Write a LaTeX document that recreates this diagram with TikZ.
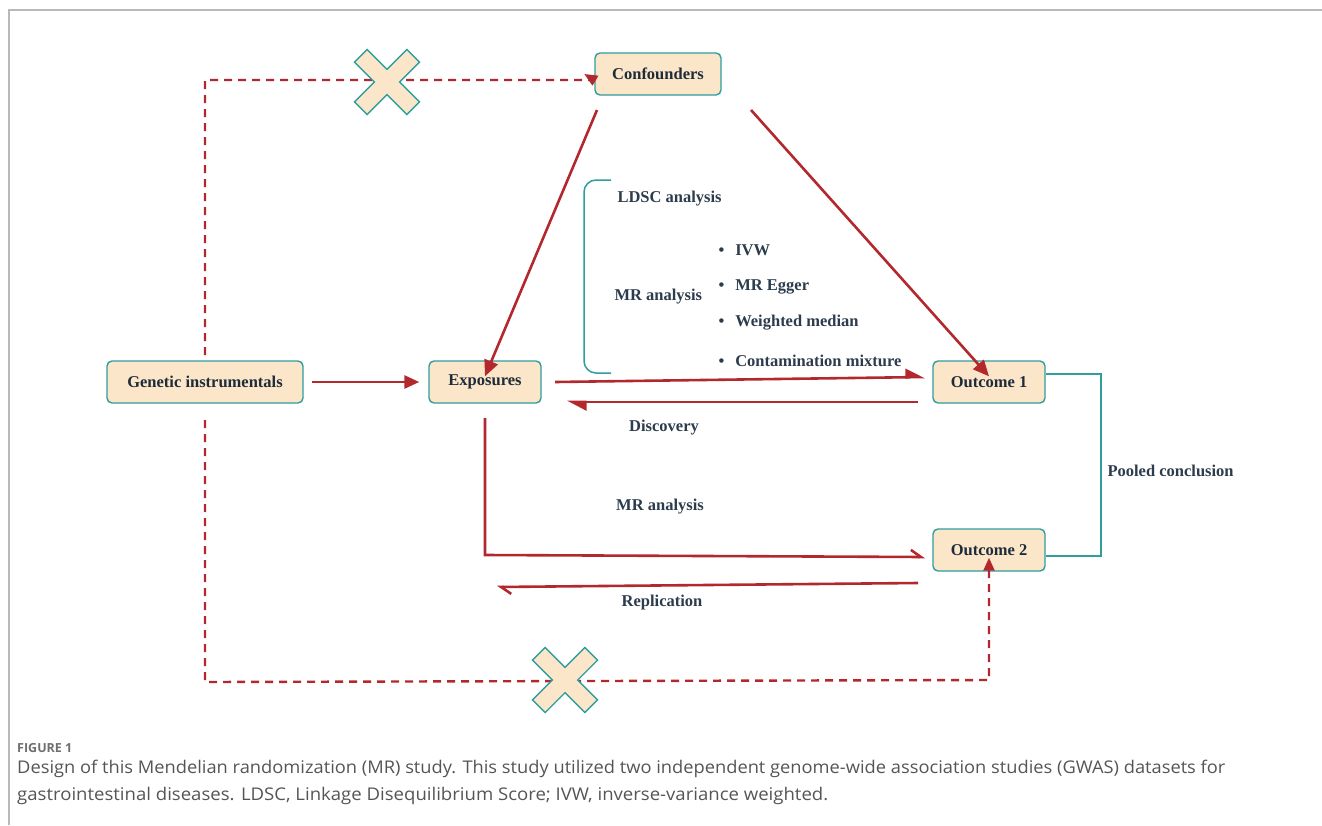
\documentclass[tikz,border=0pt]{standalone}
\usepackage{fontspec}
\setmainfont{Liberation Serif}
\newfontfamily\capfont{Open Sans}
\usetikzlibrary{arrows.meta}
\definecolor{mred}{HTML}{B3282D}
\definecolor{mteal}{HTML}{2E9E9E}
\definecolor{mfill}{HTML}{FBE6C9}
\definecolor{mtext}{HTML}{1E2C3A}
\definecolor{mlab}{HTML}{2C3C4C}
\definecolor{mcap}{HTML}{555555}
\tikzset{
  box/.style={draw=mteal, line width=1.4pt, fill=mfill, rounded corners=5pt,
    minimum height=42pt, inner xsep=8pt, text=mtext, font=\fontsize{16.5}{19}\selectfont\bfseries},
  redline/.style={draw=mred, line width=2.6pt},
  dashline/.style={draw=mred, line width=2.4pt, dash pattern=on 8pt off 6pt},
  lab/.style={text=mlab, font=\fontsize{16.5}{19}\selectfont\bfseries},
  tealline/.style={draw=mteal, line width=2.4pt},
  crossmark/.style={draw=mteal, line width=1.4pt, fill=mfill, line join=miter},
}
\begin{document}
\begin{tikzpicture}[x=1pt,y=-1pt]
\useasboundingbox (0,0) rectangle (1322,825);
% frame
\draw[gray!55, line width=1.2pt] (9,825) -- (9,10) -- (1322,10);
% nodes
\node[box, minimum width=126pt] (conf) at (658,74) {Confounders};
\node[box, minimum width=196pt] (gen) at (205,382) {Genetic instrumentals};
\node[box, minimum width=112pt] (exp) at (485,382) {Exposures};
\node[box, minimum width=112pt] (out1) at (989,382) {Outcome 1};
\node[box, minimum width=112pt] (out2) at (989,550) {Outcome 2};
% coordinates
\coordinate (gtop) at (205,355);
\coordinate (gbot) at (205,420);
\coordinate (ebot) at (485,418);
% dashed paths
\draw[dashline, -{Triangle[length=13pt,width=11pt]}] (gtop) -- (205,80) -- (conf.west |- 0,80) -- ([xshift=-10pt]conf.west);
\draw[dashline, -{Triangle[length=13pt,width=11pt]}] (gbot) -- (205,682) -- (989,680) -- ([yshift=14pt]out2.south);
% solid arrows
\draw[redline, -{Triangle[length=16pt,width=14pt]}] (597,110) -- ([yshift=-16pt]exp.north);
\draw[redline, -{Triangle[length=16pt,width=14pt]}] (751,110) -- ([yshift=-16pt]out1.north);
\draw[redline, -{Triangle[length=15pt,width=13pt]}] ([xshift=8pt]gen.east) -- ([xshift=-9pt]exp.west);
\draw[redline, -{Triangle[harpoon,length=17pt,width=17pt]}] (555,382) -- (925,377);
\draw[redline, -{Triangle[harpoon,length=17pt,width=17pt]}] (918,402) -- (567,402);
\draw[redline, -{Straight Barb[harpoon,length=10pt,width=14pt]}] (ebot) -- (485,555) -- (925,557);
\draw[redline, -{Straight Barb[harpoon,length=10pt,width=14pt]}] (918,583) -- (497,587);
% teal bracket for outcomes
\draw[tealline] (out1.east |- 0,374) -- (1101,374) -- (1101,556) -- (out2.east |- 0,556);
\node[lab, anchor=west] (pooled) at (1104,471) {Pooled conclusion};
% left brace
\draw[tealline, line width=1.5pt, rounded corners=12pt] (611,180) -- (584,180) -- (584,373) -- (611,373);
% labels
\node[lab, anchor=west] (ldsc) at (614,199) {LDSC analysis};
\node[lab, anchor=west] (mra) at (611,297) {MR analysis};
\node[lab, anchor=west] (b1) at (715,250) {\textbullet\hspace{11pt}IVW};
\node[lab, anchor=west] (b2) at (715,287) {\textbullet\hspace{11pt}MR Egger};
\node[lab, anchor=west] (b3) at (715,323) {\textbullet\hspace{11pt}Weighted median};
\node[lab, anchor=west] (b4) at (715,361) {\textbullet\hspace{11pt}Contamination mixture};
\node[lab] (disc) at (664,428) {Discovery};
\node[lab] (mrb) at (660,507) {MR analysis};
\node[lab] (repl) at (662,603) {Replication};
% cross marks
\foreach \cx/\cy in {387/82, 565/680}{
  \begin{scope}[shift={(\cx,\cy)}, rotate=45]
    \draw[crossmark] (9,9) -- (37,9) -- (37,-9) -- (9,-9) -- (9,-37) -- (-9,-37) -- (-9,-9) -- (-37,-9) -- (-37,9) -- (-9,9) -- (-9,37) -- (9,37) -- cycle;
  \end{scope}
}
% caption
\node[anchor=base west, inner sep=0pt, text=mcap!85, font=\capfont\fontsize{12.5}{15}\selectfont\bfseries] (figl) at (17,752) {FIGURE 1};
\node[anchor=base west, inner sep=0pt, text=mcap] (cap1) at (17,773) {\resizebox{1208pt}{\height}{\capfont\fontsize{17.5}{20}\selectfont Design of this Mendelian randomization (MR) study. This study utilized two independent genome-wide association studies (GWAS) datasets for}};
\node[anchor=base west, inner sep=0pt, text=mcap] (cap2) at (17,800) {\resizebox{811pt}{\height}{\capfont\fontsize{17.5}{20}\selectfont gastrointestinal diseases. LDSC, Linkage Disequilibrium Score; IVW, inverse-variance weighted.}};
\end{tikzpicture}
\end{document}
